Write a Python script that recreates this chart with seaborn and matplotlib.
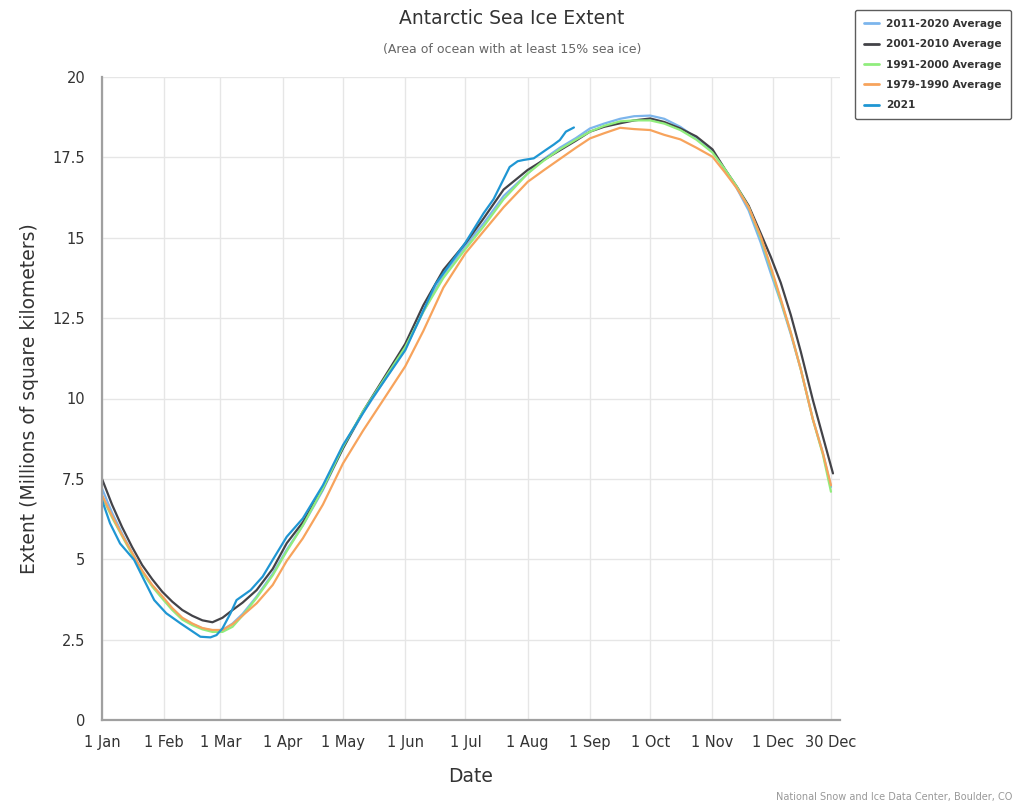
import pandas as pd
import matplotlib.pyplot as plt
import seaborn as sns

# Data (day of year, 0 = 1 Jan; extent in million km2)
avg_days = [0, 5, 10, 15, 20, 25, 30, 35, 40, 45, 50, 55, 60, 65, 70, 77, 85, 92,
            100, 110, 120, 130, 140, 151, 160, 170, 181, 190, 200, 212, 220, 228, 236,
            243, 250, 258, 265, 273, 280, 288, 296, 304, 310, 316, 322, 328, 333, 338,
            343, 348, 354, 359, 363]
avg_2011_2020 = [7.2, 6.45, 5.8, 5.2, 4.62, 4.18, 3.8, 3.45, 3.15, 2.98, 2.85, 2.78,
                 2.8, 3.0, 3.3, 3.84, 4.55, 5.3, 6.05, 7.15, 8.45, 9.55, 10.5, 11.55,
                 12.7, 13.85, 14.75, 15.45, 16.3, 17.0, 17.45, 17.8, 18.1, 18.4, 18.55,
                 18.7, 18.78, 18.8, 18.7, 18.45, 18.1, 17.7, 17.15, 16.55, 15.85, 14.85,
                 13.9, 13.0, 12.0, 10.9, 9.35, 8.3, 7.25]
avg_1991_2000 = [6.95, 6.3, 5.72, 5.15, 4.6, 4.15, 3.78, 3.42, 3.12, 2.95, 2.82, 2.74,
                 2.74, 2.9, 3.25, 3.8, 4.5, 5.25, 6.05, 7.2, 8.5, 9.6, 10.55, 11.6,
                 12.7, 13.75, 14.65, 15.35, 16.2, 17.0, 17.4, 17.75, 18.05, 18.3, 18.48,
                 18.62, 18.65, 18.65, 18.55, 18.35, 18.05, 17.65, 17.15, 16.6, 15.95,
                 15.0, 14.05, 13.05, 12.05, 10.9, 9.35, 8.25, 7.1]
avg_1979_1990 = [7.0, 6.35, 5.75, 5.2, 4.65, 4.2, 3.85, 3.48, 3.18, 3.0, 2.86, 2.8,
                 2.8, 2.98, 3.25, 3.63, 4.2, 4.95, 5.65, 6.7, 7.98, 9.0, 9.95, 11.0,
                 12.1, 13.45, 14.52, 15.2, 15.95, 16.74, 17.1, 17.45, 17.8, 18.09, 18.25,
                 18.42, 18.38, 18.35, 18.2, 18.06, 17.8, 17.52, 17.05, 16.55, 15.95,
                 15.05, 14.1, 13.1, 12.05, 10.9, 9.35, 8.3, 7.3]
dark_days = [0, 5, 10, 15, 20, 25, 30, 35, 40, 45, 50, 55, 60, 65, 70, 77, 85, 92,
             100, 110, 120, 130, 140, 151, 160, 170, 181, 190, 200, 212, 220, 228, 236,
             243, 250, 258, 265, 273, 280, 288, 296, 304, 310, 316, 322, 328, 333, 338,
             343, 348, 354, 359, 364]
avg_2001_2010 = [7.5, 6.7, 6.0, 5.38, 4.82, 4.38, 3.99, 3.68, 3.42, 3.24, 3.1, 3.04,
                 3.18, 3.42, 3.65, 4.04, 4.7, 5.5, 6.15, 7.2, 8.45, 9.6, 10.6, 11.7,
                 12.9, 14.0, 14.83, 15.6, 16.5, 17.11, 17.42, 17.72, 18.02, 18.3, 18.45,
                 18.56, 18.65, 18.71, 18.6, 18.4, 18.15, 17.75, 17.15, 16.6, 16.0, 15.14,
                 14.41, 13.6, 12.6, 11.45, 9.95, 8.81, 7.67]
days_2021 = [0, 4, 9, 16, 21, 26, 32, 39, 44, 49, 54, 57, 60, 64, 67, 74, 80, 85, 92,
             100, 110, 120, 134, 151, 166, 181, 190, 195, 199, 203, 207, 210, 215, 221,
             225, 228, 231, 235]
ext_2021 = [6.84, 6.12, 5.49, 4.98, 4.35, 3.73, 3.32, 3.01, 2.8, 2.59, 2.57, 2.64, 2.85,
            3.32, 3.73, 4.04, 4.46, 4.98, 5.7, 6.27, 7.3, 8.55, 9.95, 11.5, 13.55, 14.85,
            15.76, 16.2, 16.7, 17.2, 17.38, 17.42, 17.47, 17.73, 17.9, 18.04, 18.3, 18.43]

series_names = ['2011-2020 Average', '2001-2010 Average', '1991-2000 Average',
                '1979-1990 Average', '2021']
colors = ['#7cb5ec', '#434348', '#90ed7d', '#f7a35c', '#1f96d3']

tick_days = [0, 31, 59, 90, 120, 151, 181, 212, 243, 273, 304, 334, 363]
tick_labels = ['1 Jan', '1 Feb', '1 Mar', '1 Apr', '1 May', '1 Jun', '1 Jul',
               '1 Aug', '1 Sep', '1 Oct', '1 Nov', '1 Dec', '30 Dec']
y_ticks = [0, 2.5, 5, 7.5, 10, 12.5, 15, 17.5, 20]
y_labels = ['0', '2.5', '5', '7.5', '10', '12.5', '15', '17.5', '20']

# Build long table
frames = []
for name, d, v in zip(series_names,
                      [avg_days, dark_days, avg_days, avg_days, days_2021],
                      [avg_2011_2020, avg_2001_2010, avg_1991_2000, avg_1979_1990, ext_2021]):
    frames.append(pd.DataFrame({'day': d, 'extent': v, 'series': name}))
df = pd.concat(frames, ignore_index=True)

sns.set_style('white')
plt.rcParams['font.family'] = ['DejaVu Sans']

fig = plt.figure(figsize=(10.24, 8.06), dpi=100)
ax = fig.add_axes([102 / 1024, 1 - 720 / 806, 738 / 1024, 643 / 806])

sns.lineplot(data=df, x='day', y='extent', hue='series', hue_order=series_names,
             palette=dict(zip(series_names, colors)), estimator=None, sort=False,
             linewidth=1.6, ax=ax, legend=False)

ax.set_xlim(0, 367.5)
ax.set_ylim(0, 20)
ax.set_xticks(tick_days)
ax.set_xticklabels(tick_labels)
ax.set_yticks(y_ticks)
ax.set_yticklabels(y_labels)
ax.grid(True, color='#e6e6e6', linewidth=1)
ax.set_axisbelow(True)
for s in ['top', 'right']:
    ax.spines[s].set_visible(False)
for s in ['left', 'bottom']:
    ax.spines[s].set_color('#a0a0a0')
    ax.spines[s].set_linewidth(1.6)
ax.tick_params(axis='x', length=7, width=1, color='#e0e0e0', labelsize=10.5,
               labelcolor='#333333', pad=4)
ax.tick_params(axis='y', length=0, labelsize=10.5, labelcolor='#333333', pad=12)
ax.set_xlabel('Date', fontsize=13.5, color='#333333', labelpad=12)
ax.set_ylabel('Extent (Millions of square kilometers)', fontsize=13.5,
              color='#333333', labelpad=10)

fig.text(0.5, 1 - 19 / 806, 'Antarctic Sea Ice Extent', ha='center', va='center',
         fontsize=13.5, color='#333333')
fig.text(0.5, 1 - 50 / 806, '(Area of ocean with at least 15% sea ice)', ha='center',
         va='center', fontsize=9, color='#666666')
fig.text(1012 / 1024, 1 - 797 / 806, 'National Snow and Ice Data Center, Boulder, CO',
         ha='right', va='center', fontsize=7, color='#999999')

handles = [plt.Line2D([], [], color=c, linewidth=2) for c in colors]
leg = fig.legend(handles, series_names, loc='upper left',
                 bbox_to_anchor=(855 / 1024, 1 - 10 / 806), borderaxespad=0,
                 prop={'weight': 'bold', 'size': 7.6}, handlelength=1.4,
                 handletextpad=0.7, labelspacing=0.98, frameon=True, fancybox=True,
                 borderpad=0.85)
leg.get_frame().set_edgecolor('#333333')
leg.get_frame().set_linewidth(1)
for t in leg.get_texts():
    t.set_color('#333333')

plt.savefig('out.png', dpi=100)
